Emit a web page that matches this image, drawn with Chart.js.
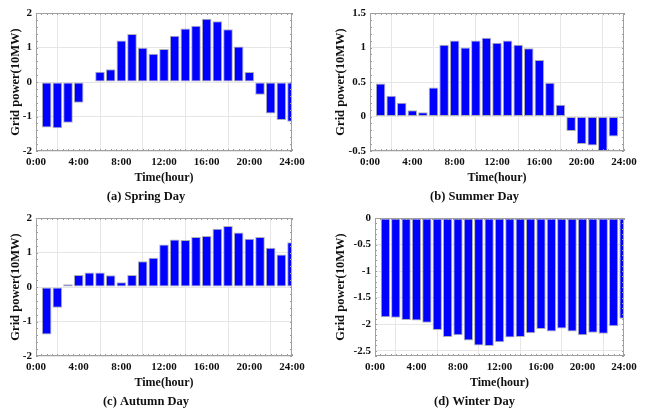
<!DOCTYPE html>
<html>
<head>
<meta charset="utf-8">
<script src="https://cdn.jsdelivr.net/npm/chart.js@4.4.0/dist/chart.umd.min.js"></script>
<style>
  body { margin: 0; background: #fff; }
  #wrap { position: relative; width: 649px; height: 410px; }
  canvas { position: absolute; }
</style>
</head>
<body>
<div id="wrap">
  <canvas id="spring" width="325" height="205" style="left:0;top:0"></canvas>
  <canvas id="summer" width="324" height="205" style="left:325px;top:0"></canvas>
  <canvas id="autumn" width="325" height="205" style="left:0;top:205px"></canvas>
  <canvas id="winter" width="324" height="205" style="left:325px;top:205px"></canvas>
</div>
<script>
// hour of each bar (bar centred on the hour)
const hours = [1, 2, 3, 4, 5, 6, 7, 8, 9, 10, 11, 12, 13, 14, 15, 16, 17, 18, 19, 20, 21, 22, 23, 24];
const xTickLabels = ['0:00', '4:00', '8:00', '12:00', '16:00', '20:00', '24:00'];

// grid power (10MW)
const springPower = [-1.32, -1.34, -1.18, -0.60, -0.01, 0.30, 0.37, 1.20, 1.39, 0.99, 0.82, 0.96,
                     1.34, 1.55, 1.63, 1.83, 1.76, 1.53, 1.03, 0.29, -0.37, -0.91, -1.10, -1.15];
const summerPower = [0.48, 0.30, 0.20, 0.09, 0.06, 0.42, 1.04, 1.10, 1.00, 1.10, 1.14, 1.07,
                     1.10, 1.04, 0.99, 0.82, 0.49, 0.17, -0.21, -0.40, -0.42, -0.52, -0.29, -0.02];
const autumnPower = [-1.38, -0.60, 0.08, 0.35, 0.42, 0.42, 0.34, 0.14, 0.35, 0.75, 0.85, 1.23,
                     1.38, 1.36, 1.45, 1.48, 1.69, 1.77, 1.58, 1.40, 1.45, 1.14, 0.94, 1.30];
const winterPower = [-1.87, -1.88, -1.92, -1.93, -1.975, -2.11, -2.24, -2.21, -2.31, -2.40, -2.41, -2.34,
                     -2.25, -2.24, -2.17, -2.09, -2.14, -2.08, -2.14, -2.21, -2.16, -2.18, -2.04, -1.90];

const FONT = "'Liberation Serif', 'Times New Roman', serif";
Chart.defaults.font.family = FONT;
Chart.defaults.font.weight = 'bold';
Chart.defaults.color = '#111';

// frame round the plot plus small inward minor ticks
const framePlugin = {
  id: 'frame',
  afterDraw(chart, args, opts) {
    const { ctx, chartArea: a, scales } = chart;
    const x = scales.x, y = scales.y;
    ctx.save();
    ctx.strokeStyle = '#9a9a9a';
    ctx.lineWidth = 1;
    ctx.beginPath();
    for (let v = x.min; v <= x.max + 1e-9; v += opts.minorX) {
      const px = Math.round(x.getPixelForValue(v)) + 0.5;
      ctx.moveTo(px, a.bottom); ctx.lineTo(px, a.bottom - 2);
      ctx.moveTo(px, a.top); ctx.lineTo(px, a.top + 2);
    }
    for (let v = y.min; v <= y.max + 1e-9; v += opts.minorY) {
      const py = Math.round(y.getPixelForValue(v)) + 0.5;
      ctx.moveTo(a.left, py); ctx.lineTo(a.left + 2, py);
      ctx.moveTo(a.right, py); ctx.lineTo(a.right - 2, py);
    }
    ctx.stroke();
    ctx.strokeStyle = '#a0a0a0';
    ctx.strokeRect(Math.round(a.left) + 0.5, Math.round(a.top) + 0.5,
                   Math.round(a.right - a.left) - 1, Math.round(a.bottom - a.top) - 1);
    ctx.restore();
  }
};

function makeChart(id, values, caption, yMin, yMax, yStep, minorY, leftW, rightPad) {
  new Chart(document.getElementById(id), {
    type: 'bar',
    data: {
      datasets: [{
        data: hours.map((h, i) => ({ x: h, y: values[i] })),
        backgroundColor: '#0000ff',
        borderColor: '#b0b0b0',
        borderWidth: 1,
        borderSkipped: false,
        categoryPercentage: 1,
        barPercentage: 0.9
      }]
    },
    options: {
      responsive: false,
      animation: false,
      layout: { padding: { top: 13, right: rightPad, left: 0, bottom: 0 } },
      plugins: {
        legend: { display: false },
        tooltip: { enabled: false },
        title: {
          display: true,
          text: caption,
          position: 'bottom',
          font: { size: 12.5, weight: 'bold' },
          padding: { top: 3, bottom: 1 }
        },
        frame: { minorX: 0.5, minorY: minorY }
      },
      scales: {
        x: {
          type: 'linear',
          min: 0,
          max: 24,
          offset: false,
          afterFit(scale) { scale.height = 35; },
          grid: { color: '#e6e6e6', drawTicks: false },
          border: { display: false },
          ticks: {
            stepSize: 4,
            padding: 5,
            maxRotation: 0,
            font: { size: 11, weight: 'bold' },
            callback: (v) => xTickLabels[v / 4]
          },
          title: {
            display: true,
            text: 'Time(hour)',
            font: { size: 12, weight: 'bold' },
            padding: { top: 0, bottom: 1 }
          }
        },
        y: {
          min: yMin,
          max: yMax,
          afterFit(scale) { scale.width = leftW; },
          grid: { color: '#e6e6e6', drawTicks: false },
          border: { display: false },
          ticks: {
            stepSize: yStep,
            padding: 4,
            includeBounds: false,
            font: { size: 11, weight: 'bold' },
            callback: (v) => String(Math.round(v * 100) / 100)
          },
          title: {
            display: true,
            text: 'Grid power(10MW)',
            font: { size: 12.5, weight: 'bold' },
            padding: { top: 8, bottom: 0 }
          }
        }
      }
    },
    plugins: [framePlugin]
  });
}

makeChart('spring', springPower, '(a) Spring Day', -2, 2, 1, 0.2, 36, 33);
makeChart('summer', summerPower, '(b) Summer Day', -0.5, 1.5, 0.5, 0.1, 45, 25);
makeChart('autumn', autumnPower, '(c) Autumn Day', -2, 2, 1, 0.2, 36, 33);
makeChart('winter', winterPower, '(d) Winter Day', -2.6, 0, 0.5, 0.1, 50, 25);
</script>
</body>
</html>
